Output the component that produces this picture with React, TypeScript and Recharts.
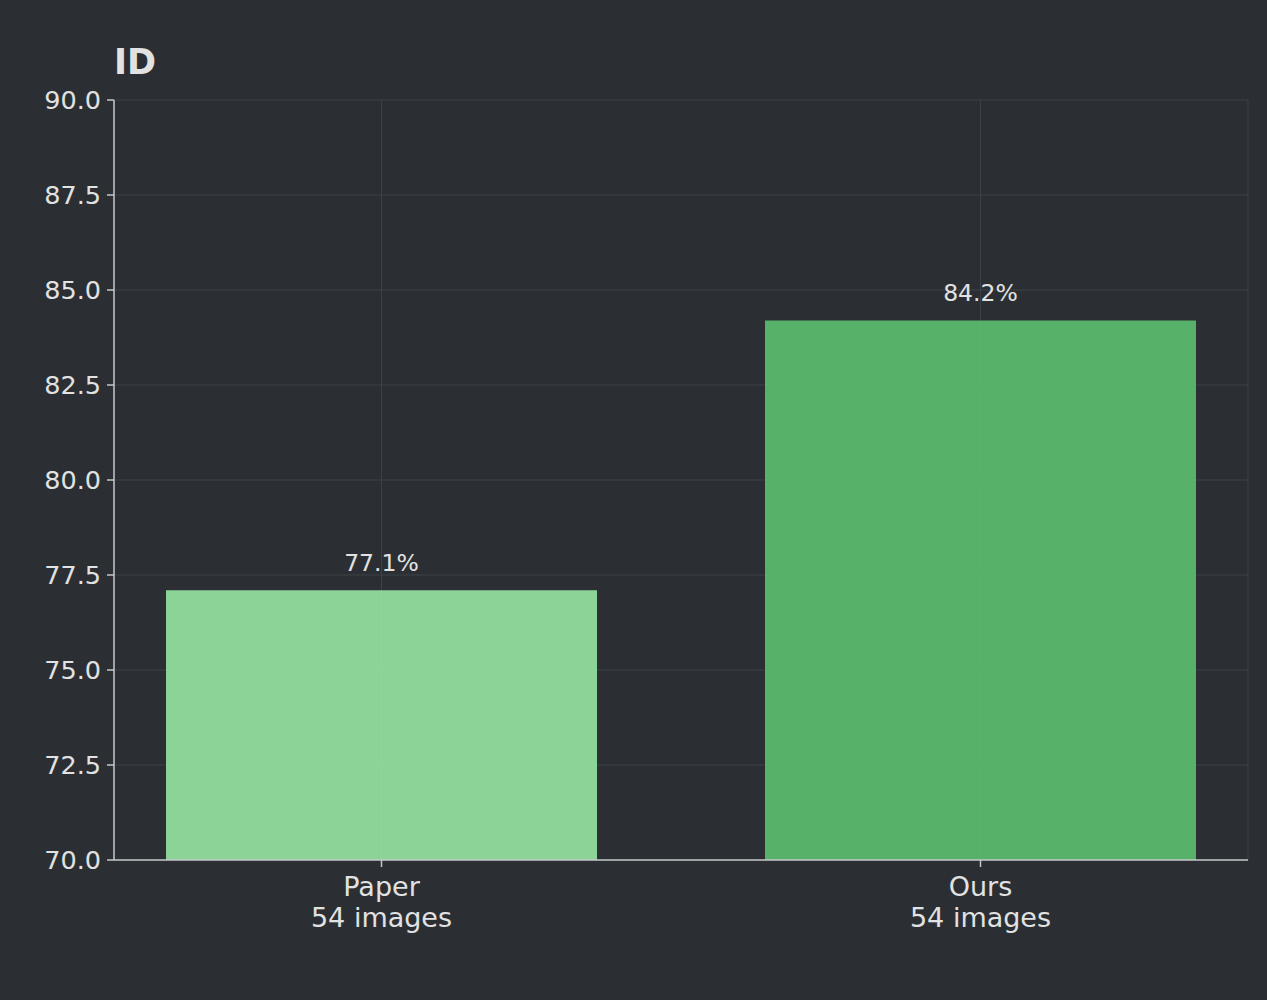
import { BarChart, Bar, XAxis, YAxis, CartesianGrid, LabelList } from 'recharts';

const methods = ['Paper', 'Ours'];
const imageCounts = [54, 54];
const scores = [77.1, 84.2];
const barColors = ['#9cf0a8', '#60c872'];
const yTicks = [70, 72.5, 75, 77.5, 80, 82.5, 85, 87.5, 90];

const data = methods.map((name, i) => ({
  idx: i,
  name,
  images: imageCounts[i],
  score: scores[i],
  fill: barColors[i],
}));

const FONT = 'DejaVu Sans, sans-serif';
const TEXT = '#e2e2e2';
const BG = '#2b2f33';

const XTick = (props: any) => {
  const { x, y, payload } = props;
  const d = data[payload.value];
  if (!d) return null;
  return (
    <text x={x} textAnchor="middle" fill={TEXT} fontSize={27} fontFamily={FONT}>
      <tspan x={x} y={y + 27}>{d.name}</tspan>
      <tspan x={x} y={y + 58}>{`${d.images} images`}</tspan>
    </text>
  );
};

const App = () => {
  return (
    <div style={{ position: 'absolute', left: 0, top: 0, width: 1267, height: 1000, background: BG }}>
      <svg width={1267} height={1000} style={{ position: 'absolute', left: 0, top: 0 }}>
        <text x={114} y={74} fill={TEXT} fontSize={35} fontWeight="bold" fontFamily={FONT}>
          ID
        </text>
      </svg>
      <div style={{ position: 'absolute', left: 0, top: 0 }}>
        <BarChart
          width={1267}
          height={1000}
          data={data}
          margin={{ top: 100, right: 19, bottom: 0, left: 0 }}
        >
          <CartesianGrid stroke="#3c4247" strokeWidth={1} />
          <XAxis
            dataKey="idx"
            type="number"
            domain={[-0.4466, 1.4466]}
            ticks={[0, 1]}
            height={140}
            tick={<XTick />}
            tickSize={7}
            axisLine={{ stroke: '#c4c7ca', strokeWidth: 1.5 }}
            tickLine={{ stroke: '#c4c7ca', strokeWidth: 1.5 }}
            allowDataOverflow
          />
          <YAxis
            domain={[70, 90]}
            ticks={yTicks}
            width={114}
            allowDataOverflow
            tickFormatter={(v) => Number(v).toFixed(1)}
            tick={{ fill: TEXT, fontSize: 25.5, fontFamily: FONT, dx: -4 }}
            tickSize={7}
            axisLine={{ stroke: '#c4c7ca', strokeWidth: 1.5 }}
            tickLine={{ stroke: '#c4c7ca', strokeWidth: 1.5 }}
          />
          <Bar dataKey="score" barSize={431} fillOpacity={0.85} isAnimationActive={false}>
            <LabelList
              dataKey="score"
              position="top"
              offset={19}
              formatter={(v: any) => `${v}%`}
              fill={TEXT}
              fontSize={23.5}
              fontFamily={FONT}
            />
          </Bar>
        </BarChart>
      </div>
    </div>
  );
};

export default App;
